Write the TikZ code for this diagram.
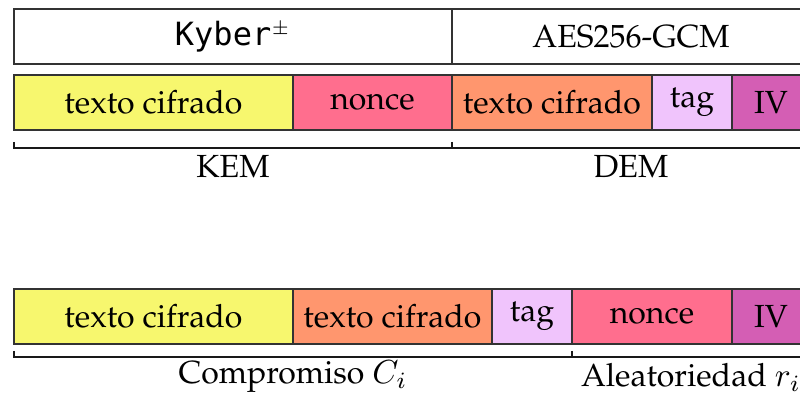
\documentclass[tikz,border=0pt]{standalone}
\usepackage[T1]{fontenc}
\usepackage{fontspec}
\newfontfamily\kyberfont{DejaVu Sans Mono}[Scale=1.0]

\definecolor{cyel}{RGB}{247,247,110}
\definecolor{cpink}{RGB}{255,110,142}
\definecolor{corange}{RGB}{255,150,110}
\definecolor{clav}{RGB}{240,196,252}
\definecolor{cviolet}{RGB}{212,94,180}

\tikzset{
  txt/.style={font=\fontencoding{T1}\fontfamily{ppl}\fontsize{9.6}{11}\selectfont},
  seg/.style={txt, draw=black!80, line width=0.75pt, inner sep=0pt, outer sep=0pt,
              minimum height=16.5pt, anchor=north west},
  head/.style={txt, draw=black!80, line width=0.45pt, inner sep=0pt, outer sep=0pt,
               minimum height=16.5pt, anchor=north west, fill=white},
  brk/.style={line width=0.65pt, black!90},
}

\begin{document}
\begin{tikzpicture}[x=0.3pt,y=-0.3pt]
  \useasboundingbox (0,0) rectangle (800,394);
  \clip (0,0) rectangle (800,394);

  % header: algorithms
  \node[head, minimum width=131.4pt] (kyber) at (14,9) {{\kyberfont Kyber}$^{\scriptscriptstyle\pm}$};
  \node[head, minimum width=107.4pt] (aes) at (452,9) {AES256-GCM};

  % KEM/DEM layout
  \node[seg, fill=cyel,    minimum width=83.7pt] (kct)   at (14,75)  {texto cifrado};
  \node[seg, fill=cpink,   minimum width=47.7pt] (knon)  at (293,75) {nonce};
  \node[seg, fill=corange, minimum width=60pt]   (dct)   at (452,75) {texto cifrado};
  \node[seg, fill=clav,    minimum width=24pt]   (dtag)  at (652,75) {tag};
  \node[seg, fill=cviolet, minimum width=23.4pt] (div)   at (732,75) {IV};

  % brackets under KEM and DEM
  \coordinate (kemA) at (14,142);
  \coordinate (kemB) at (452,142);
  \coordinate (demA) at (452,142);
  \coordinate (demB) at (810,142);
  \draw[brk] (kemA) -- ++(0,6) -| (kemB);
  \draw[brk] (demA) -- ++(0,6) -| (demB);
  \node[txt] (kem) at (233,166) {KEM};
  \node[txt] (dem) at (631,166) {DEM};

  % commitment / randomness layout
  \node[seg, fill=cyel,    minimum width=83.7pt] (cct1) at (14,289)  {texto cifrado};
  \node[seg, fill=corange, minimum width=59.7pt] (cct2) at (293,289) {texto cifrado};
  \node[seg, fill=clav,    minimum width=24pt]   (ctag) at (492,289) {tag};
  \node[seg, fill=cpink,   minimum width=48pt]   (rnon) at (572,289) {nonce};
  \node[seg, fill=cviolet, minimum width=23.4pt] (riv)  at (732,289) {IV};

  \coordinate (comA) at (14,351);
  \coordinate (comB) at (572,351);
  \coordinate (rndA) at (572,351);
  \coordinate (rndB) at (810,351);
  \draw[brk] (comA) -- ++(0,6) -| (comB);
  \draw[brk] (rndA) -- ++(0,6) -| (rndB);
  \node[txt] (com) at (293,377) {Compromiso $C_i$};
  \node[txt] (rnd) at (691,377) {Aleatoriedad $r_i$};
\end{tikzpicture}
\end{document}
